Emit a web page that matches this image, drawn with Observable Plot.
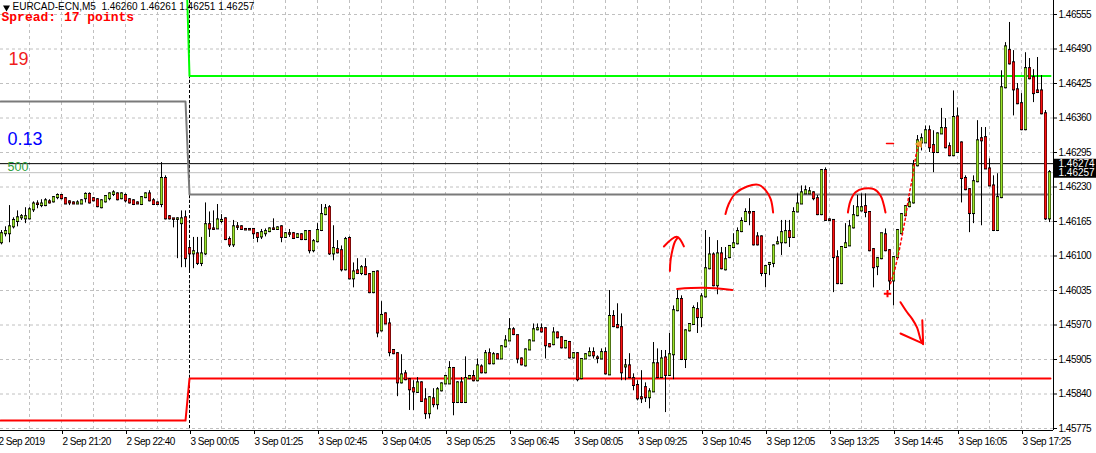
<!DOCTYPE html>
<html>
<head>
<meta charset="utf-8">
<script src="https://cdn.jsdelivr.net/npm/d3@7"></script>
<script src="https://cdn.jsdelivr.net/npm/@observablehq/plot@0.6"></script>
<style>
  html, body { margin: 0; padding: 0; background: #fff; overflow: hidden; }
  [aria-label="x-axis tick label"] text, [aria-label="y-axis tick label"] text, [aria-label="price box text"] text { letter-spacing: -0.5px; }
  [aria-label="header"] text { letter-spacing: -0.3px; }
</style>
</head>
<body>
<div id="chart"></div>
<script>
// ---- EURCAD-ECN, M5 candles (bar index 0 = 2 Sep ~20:05) ----
const open = [
1.46125,1.46142,1.46142,1.46155,1.46165,1.46172,1.46170,1.46170,1.46187,1.46198,
1.46195,1.46195,1.46202,1.46202,1.46210,1.46214,1.46208,1.46202,1.46200,1.46198,
1.46198,1.46208,1.46216,1.46208,1.46206,1.46191,1.46202,1.46208,1.46216,1.46217,
1.46208,1.46214,1.46206,1.46204,1.46200,1.46197,1.46210,1.46217,1.46204,1.46200,
1.46197,1.46246,1.46174,1.46170,1.46169,1.46161,1.46172,1.46114,1.46104,1.46104,
1.46086,1.46104,1.46159,1.46151,1.46151,1.46165,1.46170,1.46131,1.46121,1.46155,
1.46155,1.46150,1.46150,1.46150,1.46142,1.46136,1.46142,1.46146,1.46151,1.46150,
1.46155,1.46135,1.46142,1.46142,1.46135,1.46140,1.46131,1.46146,1.46110,1.46127,
1.46148,1.46178,1.46191,1.46104,1.46112,1.46110,1.46074,1.46133,1.46057,1.46072,
1.46067,1.46078,1.46065,1.46031,1.46070,1.45959,1.45991,1.45972,1.45922,1.45916,
1.45861,1.45878,1.45867,1.45850,1.45843,1.45861,1.45829,1.45803,1.45831,1.45820,
1.45846,1.45859,1.45859,1.45888,1.45824,1.45861,1.45824,1.45869,1.45873,1.45865,
1.45891,1.45880,1.45916,1.45897,1.45914,1.45906,1.45929,1.45940,1.45961,1.45950,
1.45906,1.45893,1.45923,1.45940,1.45961,1.45963,1.45963,1.45933,1.45933,1.45955,
1.45946,1.45927,1.45937,1.45908,1.45916,1.45869,1.45906,1.45912,1.45918,1.45908,
1.45906,1.45918,1.45876,1.45986,1.45969,1.45965,1.45891,1.45893,1.45869,1.45856,
1.45833,1.45852,1.45833,1.45844,1.45897,1.45871,1.45908,1.45875,1.45914,1.45997,
1.46018,1.45905,1.45959,1.45971,1.45999,1.45984,1.46023,1.46076,1.46102,1.46044,
1.46104,1.46074,1.46097,1.46116,1.46123,1.46146,1.46165,1.46182,1.46182,1.46136,
1.46136,1.46067,1.46084,1.46086,1.46123,1.46125,1.46125,1.46146,1.46135,1.46183,
1.46198,1.46217,1.46217,1.46219,1.46208,1.46178,1.46261,1.46168,1.46167,1.46097,
1.46048,1.46116,1.46119,1.46153,1.46176,1.46185,1.46193,1.46182,1.46112,1.46080,
1.46095,1.46140,1.46110,1.46053,1.46097,1.46142,1.46176,1.46193,1.46200,1.46270,
1.46313,1.46313,1.46336,1.46308,1.46295,1.46330,1.46340,1.46306,1.46289,1.46362,
1.46313,1.46246,1.46225,1.46180,1.46240,1.46321,1.46323,1.46264,1.46232,1.46148,
1.46210,1.46417,1.46487,1.46464,1.46413,1.46387,1.46338,1.46453,1.46436,1.46411,
1.46411,1.46368,1.46170];
const high = [
1.46148,1.46155,1.46195,1.46172,1.46185,1.46178,1.46191,1.46191,1.46202,1.46204,
1.46206,1.46208,1.46206,1.46212,1.46217,1.46216,1.46210,1.46204,1.46202,1.46204,
1.46206,1.46219,1.46219,1.46210,1.46208,1.46206,1.46214,1.46219,1.46223,1.46219,
1.46219,1.46217,1.46208,1.46206,1.46202,1.46212,1.46219,1.46223,1.46208,1.46202,
1.46276,1.46251,1.46176,1.46170,1.46172,1.46185,1.46185,1.46129,1.46135,1.46135,
1.46135,1.46200,1.46183,1.46185,1.46197,1.46178,1.46172,1.46136,1.46167,1.46163,
1.46157,1.46151,1.46151,1.46151,1.46144,1.46150,1.46151,1.46153,1.46170,1.46155,
1.46157,1.46144,1.46150,1.46144,1.46142,1.46142,1.46148,1.46148,1.46131,1.46161,
1.46197,1.46197,1.46195,1.46157,1.46129,1.46119,1.46135,1.46136,1.46087,1.46095,
1.46082,1.46095,1.46067,1.46070,1.46072,1.46014,1.45993,1.45982,1.45923,1.45918,
1.45914,1.45884,1.45869,1.45865,1.45871,1.45863,1.45850,1.45835,1.45850,1.45852,
1.45861,1.45875,1.45901,1.45890,1.45863,1.45871,1.45910,1.45875,1.45884,1.45906,
1.45895,1.45922,1.45925,1.45918,1.45916,1.45931,1.45950,1.45982,1.45965,1.45950,
1.45908,1.45925,1.45942,1.45972,1.45972,1.45972,1.45965,1.45935,1.45965,1.45957,
1.45948,1.45940,1.45939,1.45918,1.45918,1.45906,1.45916,1.45927,1.45927,1.45912,
1.45925,1.45927,1.46035,1.45997,1.46010,1.45991,1.45905,1.45916,1.45878,1.45865,
1.45884,1.45861,1.45850,1.45937,1.45925,1.45922,1.45922,1.45954,1.46006,1.46035,
1.46025,1.45961,1.45972,1.46006,1.46012,1.46029,1.46148,1.46135,1.46106,1.46129,
1.46116,1.46116,1.46119,1.46142,1.46153,1.46172,1.46189,1.46208,1.46183,1.46144,
1.46138,1.46082,1.46086,1.46121,1.46136,1.46167,1.46167,1.46167,1.46191,1.46217,
1.46232,1.46232,1.46229,1.46221,1.46214,1.46263,1.46266,1.46170,1.46168,1.46110,
1.46118,1.46161,1.46167,1.46195,1.46214,1.46217,1.46217,1.46183,1.46114,1.46097,
1.46142,1.46151,1.46112,1.46099,1.46150,1.46180,1.46195,1.46210,1.46280,1.46327,
1.46330,1.46345,1.46345,1.46336,1.46332,1.46378,1.46359,1.46313,1.46411,1.46379,
1.46315,1.46251,1.46227,1.46251,1.46355,1.46342,1.46342,1.46283,1.46251,1.46255,
1.46449,1.46502,1.46540,1.46487,1.46425,1.46406,1.46483,1.46472,1.46451,1.46474,
1.46440,1.46374,1.46261];
const low = [
1.46121,1.46136,1.46125,1.46151,1.46155,1.46167,1.46161,1.46168,1.46182,1.46189,
1.46191,1.46193,1.46198,1.46200,1.46206,1.46206,1.46197,1.46195,1.46198,1.46198,
1.46197,1.46200,1.46198,1.46202,1.46191,1.46189,1.46200,1.46204,1.46212,1.46204,
1.46206,1.46200,1.46198,1.46195,1.46197,1.46195,1.46208,1.46202,1.46195,1.46195,
1.46191,1.46168,1.46168,1.46153,1.46095,1.46078,1.46078,1.46072,1.46076,1.46082,
1.46080,1.46101,1.46135,1.46148,1.46150,1.46161,1.46129,1.46116,1.46116,1.46148,
1.46148,1.46148,1.46148,1.46131,1.46125,1.46131,1.46136,1.46144,1.46148,1.46148,
1.46125,1.46133,1.46135,1.46131,1.46133,1.46129,1.46129,1.46104,1.46106,1.46125,
1.46146,1.46176,1.46101,1.46091,1.46104,1.46070,1.46072,1.46055,1.46040,1.46065,
1.46063,1.46063,1.46029,1.46029,1.45946,1.45957,1.45971,1.45910,1.45914,1.45835,
1.45859,1.45865,1.45809,1.45809,1.45841,1.45824,1.45792,1.45793,1.45814,1.45810,
1.45844,1.45858,1.45858,1.45799,1.45822,1.45822,1.45822,1.45867,1.45863,1.45863,
1.45878,1.45878,1.45895,1.45895,1.45905,1.45905,1.45927,1.45939,1.45950,1.45897,
1.45893,1.45891,1.45922,1.45939,1.45959,1.45955,1.45906,1.45927,1.45931,1.45944,
1.45925,1.45925,1.45906,1.45906,1.45863,1.45867,1.45905,1.45910,1.45906,1.45897,
1.45905,1.45876,1.45875,1.45965,1.45963,1.45865,1.45865,1.45869,1.45846,1.45827,
1.45822,1.45824,1.45812,1.45843,1.45869,1.45869,1.45805,1.45873,1.45867,1.45995,
1.45903,1.45888,1.45957,1.45969,1.45954,1.45965,1.46021,1.46074,1.46042,1.46027,
1.46074,1.46072,1.46095,1.46114,1.46121,1.46144,1.46163,1.46157,1.46119,1.46119,
1.46061,1.46040,1.46063,1.46078,1.46121,1.46101,1.46123,1.46116,1.46133,1.46182,
1.46197,1.46216,1.46216,1.46204,1.46176,1.46176,1.46165,1.46165,1.46031,1.46046,
1.46046,1.46114,1.46118,1.46151,1.46174,1.46183,1.46172,1.46108,1.46040,1.46063,
1.46093,1.46108,1.46035,1.46006,1.46095,1.46140,1.46174,1.46191,1.46198,1.46268,
1.46298,1.46312,1.46295,1.46257,1.46293,1.46329,1.46302,1.46287,1.46287,1.46293,
1.46200,1.46223,1.46144,1.46161,1.46238,1.46157,1.46263,1.46231,1.46146,1.46146,
1.46208,1.46415,1.46460,1.46364,1.46385,1.46336,1.46336,1.46432,1.46389,1.46406,
1.46366,1.46167,1.46163];
const close = [
1.46142,1.46146,1.46155,1.46167,1.46172,1.46174,1.46174,1.46187,1.46198,1.46197,
1.46198,1.46204,1.46200,1.46210,1.46214,1.46208,1.46198,1.46200,1.46198,1.46200,
1.46204,1.46216,1.46200,1.46204,1.46193,1.46204,1.46212,1.46217,1.46219,1.46206,
1.46217,1.46204,1.46200,1.46197,1.46198,1.46210,1.46217,1.46204,1.46197,1.46197,
1.46246,1.46170,1.46170,1.46169,1.46170,1.46170,1.46095,1.46104,1.46108,1.46086,
1.46104,1.46159,1.46151,1.46150,1.46168,1.46167,1.46131,1.46121,1.46155,1.46154,
1.46150,1.46149,1.46149,1.46142,1.46135,1.46144,1.46146,1.46151,1.46150,1.46153,
1.46135,1.46142,1.46141,1.46133,1.46140,1.46131,1.46146,1.46110,1.46127,1.46148,
1.46178,1.46189,1.46104,1.46114,1.46106,1.46074,1.46131,1.46057,1.46070,1.46067,
1.46078,1.46065,1.46031,1.46069,1.45955,1.45988,1.45972,1.45918,1.45916,1.45861,
1.45876,1.45867,1.45848,1.45844,1.45861,1.45826,1.45803,1.45833,1.45820,1.45848,
1.45859,1.45873,1.45888,1.45824,1.45861,1.45824,1.45869,1.45873,1.45865,1.45893,
1.45880,1.45916,1.45897,1.45914,1.45906,1.45929,1.45940,1.45961,1.45952,1.45906,
1.45895,1.45923,1.45940,1.45961,1.45963,1.45957,1.45931,1.45929,1.45955,1.45946,
1.45927,1.45939,1.45908,1.45916,1.45867,1.45905,1.45914,1.45918,1.45912,1.45907,
1.45918,1.45878,1.45986,1.45967,1.45965,1.45880,1.45893,1.45871,1.45856,1.45831,
1.45831,1.45833,1.45844,1.45897,1.45871,1.45906,1.45875,1.45914,1.45997,1.46018,
1.45905,1.45959,1.45971,1.46001,1.45984,1.46023,1.46076,1.46102,1.46044,1.46104,
1.46076,1.46093,1.46118,1.46123,1.46146,1.46165,1.46182,1.46181,1.46121,1.46121,
1.46067,1.46080,1.46086,1.46119,1.46125,1.46144,1.46146,1.46135,1.46182,1.46198,
1.46219,1.46223,1.46221,1.46208,1.46178,1.46261,1.46167,1.46167,1.46097,1.46048,
1.46116,1.46123,1.46155,1.46176,1.46191,1.46191,1.46182,1.46110,1.46078,1.46095,
1.46142,1.46110,1.46053,1.46097,1.46148,1.46178,1.46193,1.46200,1.46270,1.46317,
1.46321,1.46336,1.46304,1.46295,1.46330,1.46340,1.46304,1.46289,1.46361,1.46295,
1.46246,1.46225,1.46180,1.46240,1.46317,1.46317,1.46264,1.46232,1.46148,1.46210,
1.46417,1.46494,1.46462,1.46413,1.46387,1.46338,1.46453,1.46434,1.46406,1.46408,
1.46368,1.46170,1.46257];

// ---- axis ticks ----
const priceTicks = [1.45775,1.45840,1.45905,1.45970,1.46035,1.46100,1.46165,1.46230,1.46295,1.46360,1.46425,1.46490,1.46555];
const timeLabels = ["2 Sep 2019","2 Sep 21:20","2 Sep 22:40","3 Sep 00:05","3 Sep 01:25","3 Sep 02:45","3 Sep 04:05","3 Sep 05:25","3 Sep 06:45","3 Sep 08:05","3 Sep 09:25","3 Sep 10:45","3 Sep 12:05","3 Sep 13:25","3 Sep 14:45","3 Sep 16:05","3 Sep 17:25"];
const timeLabelBars = [-1,15,31,47,63,79,95,111,127,143,159,175,191,207,223,239,255];
const daySeparatorBar = 47;

// ---- indicator levels (previous day / current day) ----
const levelHigh = [1.46700, 1.46439];
const levelMid  = [1.46391, 1.46216];
const levelLow  = [1.45790, 1.45869];
const askPrice = 1.46274;
const bidPrice = 1.46257;

// ---- hand-drawn annotations (bar index, price) ----
const drawUp       = [[167.1,1.46072],[167.25,1.46091],[167.7,1.46110],[168.3,1.46126],[169.1,1.46135]];
const drawUpHead   = [[165.6,1.46118],[168.9,1.46136],[170.6,1.46118]];
const drawLevel    = [[168.9,1.46038],[175.6,1.46040],[182.7,1.46036]];
const drawHump1    = [[181,1.46179],[181.8,1.46198],[183.5,1.46218],[186.4,1.46231],[189.3,1.46234],[191,1.46224],[192.3,1.46207],[192.9,1.46182]];
const drawHump2    = [[211.6,1.46182],[212.25,1.46204],[213.5,1.46220],[215.6,1.46227],[218.1,1.46226],[219.75,1.46214],[221,1.46182]];
const drawDown     = [[224.75,1.46013],[226.4,1.45994],[227.7,1.45981],[228.9,1.45965],[229.9,1.45940],[230.4,1.45934]];
const drawDownHead = [[224.75,1.45954],[230.4,1.45935],[230.2,1.45979]];
const trendDots    = [[222.25,1.46048],[223.25,1.46072],[224.25,1.46104],[225.25,1.46142],[226,1.46172],[226.75,1.46210],[227.75,1.46248],[228.5,1.46285],[229.25,1.46312]];
const dashMark     = [[221.25,1.46312],[223,1.46312]];
const plusMark     = [[221.5,1.46029]];
const arrowMark    = [[229.5,1.46311]];

// ---- build ----
const n = open.length;
const bars = open.map((o, k) => ({
  i: k, open: o, high: high[k], low: low[k], close: close[k],
  top: Math.max(o, close[k]), bottom: Math.min(o, close[k]), up: close[k] >= o
}));
const level = (v) => [{i: -0.25, p: v[0]}, {i: daySeparatorBar - 1, p: v[0]}, {i: daySeparatorBar, p: v[1]}, {i: n - 0.75, p: v[1]}];
const xDomain = [-0.25, n];
const pxPerPoint = 1.884e-5;
const yTop = priceTicks[priceTicks.length - 1] + 14 * pxPerPoint;
const yDomain = [yTop - 430 * pxPerPoint, yTop];
const gridBars = d3.range(7, n, 8);
const labelByBar = new Map(timeLabelBars.map((b, k) => [b, timeLabels[k]]));
const P = (a) => a.map(([i, p]) => ({i, p}));
const red = "#ff0000";

const chart = Plot.plot({
  width: 1096, height: 453,
  marginLeft: 0, marginRight: 43, marginTop: 0, marginBottom: 23,
  x: {type: "linear", domain: xDomain, axis: null},
  y: {domain: yDomain, axis: null},
  style: {background: "white", fontFamily: "'Liberation Sans', Arial, sans-serif", fontSize: "10px", color: "black"},
  marks: [
    Plot.ruleY(priceTicks, {stroke: "#c0c0c0", strokeDasharray: "3,3"}),
    Plot.ruleX(gridBars, {stroke: "#c0c0c0", strokeDasharray: "3,3"}),
    Plot.ruleX([daySeparatorBar], {stroke: "black", strokeDasharray: "3,2"}),
    Plot.ruleY([askPrice], {stroke: "black"}),
    Plot.ruleY([bidPrice], {stroke: "#c0c0c0"}),
    Plot.line(level(levelHigh), {x: "i", y: "p", stroke: "#00ff00", strokeWidth: 2, clip: true}),
    Plot.line(level(levelMid), {x: "i", y: "p", stroke: "#7a7a7a", strokeWidth: 2, clip: true}),
    Plot.line(level(levelLow), {x: "i", y: "p", stroke: "#ff0000", strokeWidth: 2, clip: true}),
    // wicks
    Plot.ruleX(bars, {x: "i", y1: "low", y2: "high", stroke: "black"}),
    // body outline and coloured fill
    Plot.ruleX(bars, {x: "i", y1: "top", y2: "bottom", stroke: "black", strokeWidth: 3, insetTop: -1, insetBottom: -1}),
    Plot.ruleX(bars, {x: "i", y1: "top", y2: "bottom", stroke: d => d.up ? "#9be62a" : "#ff1010", strokeWidth: 2}),
    // hand-drawn annotations
    Plot.line(P(drawUp), {x: "i", y: "p", stroke: red, strokeWidth: 2, curve: "catmull-rom", strokeLinecap: "round"}),
    Plot.line(P(drawUpHead), {x: "i", y: "p", stroke: red, strokeWidth: 2, curve: "catmull-rom", strokeLinecap: "round"}),
    Plot.line(P(drawLevel), {x: "i", y: "p", stroke: red, strokeWidth: 2, curve: "catmull-rom", strokeLinecap: "round"}),
    Plot.line(P(drawHump1), {x: "i", y: "p", stroke: red, strokeWidth: 2, curve: "catmull-rom", strokeLinecap: "round"}),
    Plot.line(P(drawHump2), {x: "i", y: "p", stroke: red, strokeWidth: 2, curve: "catmull-rom", strokeLinecap: "round"}),
    Plot.line(P(drawDown), {x: "i", y: "p", stroke: red, strokeWidth: 2, curve: "catmull-rom", strokeLinecap: "round"}),
    Plot.line(P(drawDownHead), {x: "i", y: "p", stroke: red, strokeWidth: 2, strokeLinecap: "round", strokeLinejoin: "round"}),
    Plot.line(P(trendDots), {x: "i", y: "p", stroke: red, strokeWidth: 1.5, strokeDasharray: "2,3"}),
    Plot.line(P(dashMark), {x: "i", y: "p", stroke: red, strokeWidth: 1.5}),
    Plot.dot(P(plusMark), {x: "i", y: "p", symbol: "plus", r: 2.5, stroke: red, strokeWidth: 2}),
    Plot.dot(P(arrowMark), {x: "i", y: "p", symbol: "triangle", rotate: -90, r: 3, fill: "#f0a030"}),
    // frame lines
    Plot.ruleY([yDomain[0]], {stroke: "black"}),
    Plot.ruleX([xDomain[1]], {stroke: "black"}),
    // axes
    Plot.axisY(priceTicks, {anchor: "right", label: null, tickFormat: d3.format(".5f"), tickSize: 3, tickPadding: 2, fontSize: 10}),
    Plot.axisX(timeLabelBars, {anchor: "bottom", label: null, tickFormat: d => labelByBar.get(d), textAnchor: "start", dx: 1, tickSize: 4, tickPadding: 3, fontSize: 10}),
    // current price boxes
    Plot.ruleY([askPrice, bidPrice], {x1: n + 0.25, x2: n + 11, stroke: "black", strokeWidth: 10}),
    Plot.text([askPrice, bidPrice], {x: n, y: d => d, text: d => d3.format(".5f")(d), textAnchor: "start", dx: 5, fill: "white", fontSize: 10, ariaLabel: "price box text"}),
    // overlay texts
    Plot.dot([0], {frameAnchor: "top-left", dx: 6, dy: 7, symbol: "triangle", rotate: 180, r: 2.6, fill: "black"}),
    Plot.text(["EURCAD-ECN,M5\u00a0\u00a01.46260 1.46261 1.46251 1.46257"], {frameAnchor: "top-left", dx: 12, dy: 2, lineAnchor: "top", fontSize: 10, fill: "black", ariaLabel: "header"}),
    Plot.text(["Spread: 17 points"], {frameAnchor: "top-left", dx: 1, dy: 11, lineAnchor: "top", fontSize: 13, fontWeight: "bold", fontFamily: "'Liberation Mono', 'Courier New', monospace", fill: red}),
    Plot.text(["19"], {frameAnchor: "top-left", dx: 8, dy: 52, lineAnchor: "top", fontSize: 18, fill: "#f01c1c"}),
    Plot.text(["0.13"], {frameAnchor: "top-left", dx: 7, dy: 132, lineAnchor: "top", fontSize: 18, fill: "#0000ff"}),
    Plot.text(["500"], {frameAnchor: "top-left", dx: 7, dy: 162, lineAnchor: "top", fontSize: 12.5, fill: "#2f9f3f"})
  ]
});
document.getElementById("chart").appendChild(chart);
</script>
</body>
</html>
